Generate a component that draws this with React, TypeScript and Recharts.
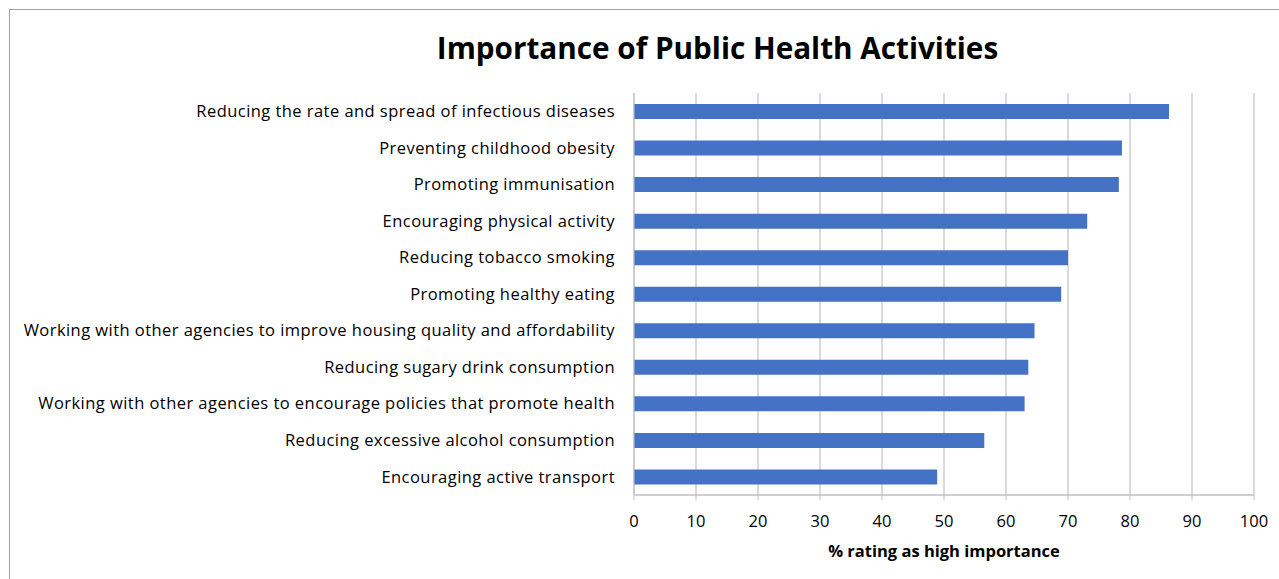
import React from "react";
import { BarChart, Bar, XAxis, YAxis, CartesianGrid, Label } from "recharts";

const categories = [
  "Reducing the rate and spread of infectious diseases",
  "Preventing childhood obesity",
  "Promoting immunisation",
  "Encouraging physical activity",
  "Reducing tobacco smoking",
  "Promoting healthy eating",
  "Working with other agencies to improve housing quality and affordability",
  "Reducing sugary drink consumption",
  "Working with other agencies to encourage policies that promote health",
  "Reducing excessive alcohol consumption",
  "Encouraging active transport",
];
const values = [86.3, 78.7, 78.2, 73.1, 70.0, 68.9, 64.6, 63.6, 63.0, 56.5, 48.9];
const xTicks = [0, 10, 20, 30, 40, 50, 60, 70, 80, 90, 100];
const boundaryTicks = [0, 1, 2, 3, 4, 5, 6, 7, 8, 9, 10, 11];
const title = "Importance of Public Health Activities";
const xTitle = "% rating as high importance";

const data = categories.map((c, i) => ({ name: c, value: values[i] }));

const FONT = "'Open Sans', sans-serif";

export default function App() {
  return (
    <div style={{ position: "absolute", left: 0, top: 0, width: 1279, height: 579, overflow: "hidden", background: "#fff", fontFamily: FONT }}>
      <div style={{ position: "absolute", left: 9, top: 9, width: 1300, height: 600, borderLeft: "1px solid #a0a0a0", borderTop: "1px solid #a0a0a0", boxSizing: "border-box" }} />
      <div style={{ position: "absolute", left: 717.5, top: 27, transform: "translateX(-50%)", whiteSpace: "nowrap", fontSize: 29.7, fontWeight: 700, color: "#000", lineHeight: "42px" }}>
        {title}
      </div>
      <div style={{ position: "absolute", left: 0, top: 0 }}>
        <BarChart
          width={1279}
          height={579}
          layout="vertical"
          data={data}
          margin={{ top: 93, right: 25, bottom: 14, left: 0 }}
          barSize={15}
        >
          <CartesianGrid horizontal={false} vertical={true} stroke="#b5b5b5" strokeWidth={1} />
          <XAxis
            type="number"
            domain={[0, 100]}
            ticks={xTicks}
            interval={0}
            axisLine={{ stroke: "#bfbfbf", strokeWidth: 1.5 }}
            tickLine={{ stroke: "#bfbfbf" }}
            tickSize={5}
            tickMargin={15}
            tick={{ fill: "#000", fontSize: 16.5, fontFamily: FONT }}
            height={70}
          >
            <Label value={xTitle} position="insideBottom" offset={8} style={{ fontWeight: 700, fontSize: 16.5, fill: "#000", fontFamily: FONT }} />
          </XAxis>
          <YAxis
            type="category"
            dataKey="name"
            yAxisId="cat"
            width={634}
            interval={0}
            axisLine={{ stroke: "#bfbfbf" }}
            tickLine={false}
            tickSize={6}
            tickMargin={13}
            tick={{ fill: "#000", fontSize: 16.5, fontFamily: FONT, letterSpacing: 0.45 }}
          />
          <YAxis
            type="number"
            yAxisId="bounds"
            domain={[0, 11]}
            ticks={boundaryTicks}
            interval={0}
            width={0}
            axisLine={false}
            tickLine={{ stroke: "#bfbfbf" }}
            tickSize={6}
            tick={() => <g />}
          />
          <Bar dataKey="value" yAxisId="cat" fill="#4472C4" isAnimationActive={false} />
        </BarChart>
      </div>
    </div>
  );
}
